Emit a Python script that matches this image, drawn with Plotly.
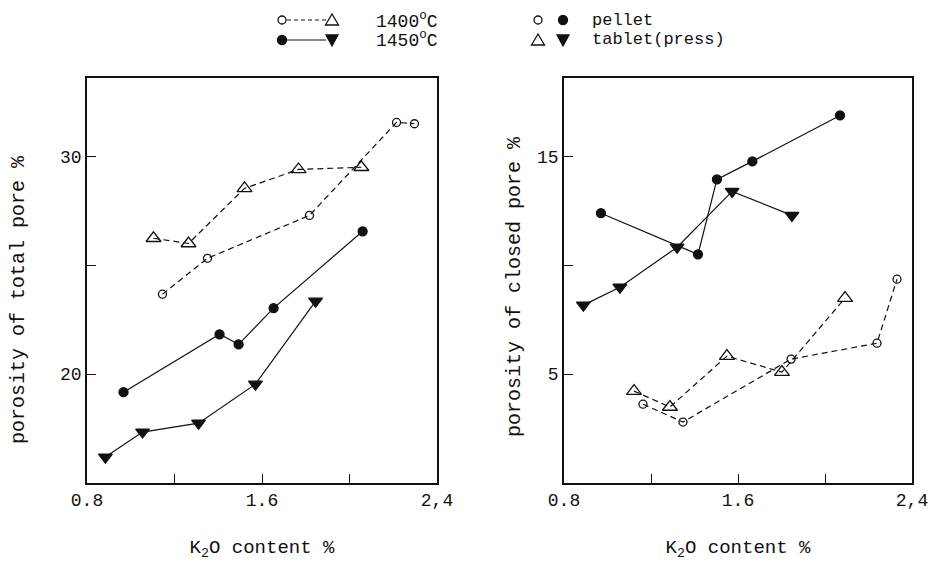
import plotly.graph_objects as go
from plotly.subplots import make_subplots

# ---- data: left panel (porosity of total pore %) ----
tp_pellet_1400_x = [1.145, 1.351, 1.817, 2.215, 2.297]
tp_pellet_1400_y = [23.67, 25.32, 27.29, 31.56, 31.5]
tp_tablet_1400_x = [1.104, 1.264, 1.52, 1.767, 2.054]
tp_tablet_1400_y = [26.24, 26.0, 28.53, 29.4, 29.5]
tp_pellet_1450_x = [0.967, 1.406, 1.493, 1.653, 2.06]
tp_pellet_1450_y = [19.17, 21.83, 21.37, 23.03, 26.56]
tp_tablet_1450_x = [0.884, 1.054, 1.31, 1.57, 1.845]
tp_tablet_1450_y = [16.19, 17.34, 17.75, 19.54, 23.35]

# ---- data: right panel (porosity of closed pore %) ----
cp_pellet_1400_x = [1.163, 1.347, 1.844, 2.239, 2.331]
cp_pellet_1400_y = [3.62, 2.80, 5.69, 6.42, 9.36]
cp_tablet_1400_x = [1.122, 1.287, 1.549, 1.802, 2.092]
cp_tablet_1400_y = [4.22, 3.49, 5.83, 5.09, 8.49]
cp_pellet_1450_x = [0.97, 1.416, 1.503, 1.666, 2.069]
cp_pellet_1450_y = [12.39, 10.5, 13.94, 14.77, 16.88]
cp_tablet_1450_x = [0.889, 1.057, 1.32, 1.573, 1.848]
cp_tablet_1450_y = [8.17, 8.99, 10.83, 13.39, 12.29]

x_tickvals = [0.8, 1.6, 2.4]
x_ticktext = ["0.8", "1.6", "2,4"]
x_minor = [1.2, 2.0]
yl_tickvals = [20, 30]
yl_minor = [25]
yr_tickvals = [5, 15]
yr_minor = [10]

FONT = "Liberation Mono"
BLACK = "#111111"

fig = make_subplots(rows=1, cols=2)


def add_series(x, y, col, symbol, dash, size):
    fig.add_trace(go.Scatter(
        x=x, y=y, mode="lines+markers",
        line=dict(color=BLACK, width=1.2, dash=dash),
        marker=dict(symbol=symbol, size=size, color=BLACK,
                    line=dict(color=BLACK, width=1.3)),
        showlegend=False), row=1, col=col)


add_series(tp_pellet_1400_x, tp_pellet_1400_y, 1, "circle-open", "6px,4px", 8)
add_series(tp_tablet_1400_x, tp_tablet_1400_y, 1, "triangle-up-open", "6px,4px", 13)
add_series(tp_pellet_1450_x, tp_pellet_1450_y, 1, "circle", "solid", 9)
add_series(tp_tablet_1450_x, tp_tablet_1450_y, 1, "triangle-down", "solid", 12)
add_series(cp_pellet_1400_x, cp_pellet_1400_y, 2, "circle-open", "6px,4px", 8)
add_series(cp_tablet_1400_x, cp_tablet_1400_y, 2, "triangle-up-open", "6px,4px", 13)
add_series(cp_pellet_1450_x, cp_pellet_1450_y, 2, "circle", "solid", 9)
add_series(cp_tablet_1450_x, cp_tablet_1450_y, 2, "triangle-down", "solid", 12)

W, H = 932, 572
ydom = [1 - 483 / H, 1 - 78 / H]

axis_common = dict(showline=True, mirror=True, linecolor=BLACK, linewidth=1.6,
                   showgrid=False, zeroline=False, ticks="inside", ticklen=9,
                   tickcolor=BLACK, tickwidth=1.2, automargin=False,
                   tickfont=dict(family=FONT, size=18, color=BLACK))

fig.update_xaxes(**axis_common, range=[0.8, 2.4], tickvals=x_tickvals,
                 ticktext=x_ticktext,
                 minor=dict(tickvals=x_minor, ticks="inside", ticklen=9,
                            tickcolor=BLACK, tickwidth=1.2, showgrid=False),
                 title=dict(text="K<sub>2</sub>O content %",
                            font=dict(family=FONT, size=19, color=BLACK),
                            standoff=29))
fig.update_xaxes(domain=[87 / W, 437 / W], row=1, col=1)
fig.update_xaxes(domain=[564 / W, 912 / W], row=1, col=2)
fig.update_yaxes(**axis_common, domain=ydom)
fig.update_yaxes(range=[15, 33.6], tickvals=yl_tickvals,
                 minor=dict(tickvals=yl_minor, ticks="inside", ticklen=9,
                            tickcolor=BLACK, tickwidth=1.2, showgrid=False),
                 row=1, col=1)
fig.update_yaxes(range=[0, 18.6], tickvals=yr_tickvals,
                 minor=dict(tickvals=yr_minor, ticks="inside", ticklen=9,
                            tickcolor=BLACK, tickwidth=1.2, showgrid=False),
                 row=1, col=2)

annotations = [
    dict(text="porosity of total pore %", x=18 / W, y=1 - 300 / H,
         textangle=-90),
    dict(text="porosity of closed pore %", x=514 / W, y=1 - 287 / H,
         textangle=-90),
]
for a in annotations:
    a.update(xref="paper", yref="paper", showarrow=False,
             xanchor="center", yanchor="middle",
             font=dict(family=FONT, size=20, color=BLACK))

# legend block (top) drawn with shapes + text
r1_px, r2_px = 20, 40
r1, r2 = 1 - r1_px / H, 1 - r2_px / H


def px(x):
    return x / W


def py(y):
    return 1 - y / H


def circle(cx, cy, r, filled):
    return dict(type="circle", xref="paper", yref="paper",
                x0=px(cx - r), x1=px(cx + r), y0=py(cy + r), y1=py(cy - r),
                line=dict(color=BLACK, width=1.3),
                fillcolor=BLACK if filled else "white")


def tri(cx, cy, up, filled):
    if up:
        pts = [(cx, cy - 6), (cx - 6.5, cy + 5), (cx + 6.5, cy + 5)]
    else:
        pts = [(cx - 6, cy - 5), (cx + 6, cy - 5), (cx, cy + 6)]
    path = "M " + " L ".join(f"{px(a):.5f},{py(b):.5f}" for a, b in pts) + " Z"
    return dict(type="path", xref="paper", yref="paper", path=path,
                line=dict(color=BLACK, width=1.3),
                fillcolor=BLACK if filled else "white")


shapes = [
    dict(type="line", xref="paper", yref="paper", x0=px(287), x1=px(326),
         y0=r1, y1=r1, line=dict(color=BLACK, width=1.2, dash="4px,3px")),
    dict(type="line", xref="paper", yref="paper", x0=px(287), x1=px(326),
         y0=r2, y1=r2, line=dict(color=BLACK, width=1.2)),
    circle(282, r1_px, 4, False), tri(332, r1_px, True, False),
    circle(282, r2_px, 4.5, True), tri(332, r2_px, False, True),
    circle(538, r1_px, 4, False), circle(563, r1_px, 4.5, True),
    tri(538, r2_px, True, False), tri(563, r2_px, False, True),
]

for t, x, y, s in [("1400<sup>o</sup>C", 374, r1, 18),
                   ("1450<sup>o</sup>C", 374, r2, 18),
                   ("pellet", 590, r1, 17), ("tablet(press)", 590, r2, 17)]:
    annotations.append(dict(text=t, x=x / W, y=y, xref="paper", yref="paper",
                            showarrow=False, xanchor="left", yanchor="middle",
                            font=dict(family=FONT, size=s, color=BLACK)))

fig.update_layout(width=W, height=H, margin=dict(l=0, r=0, t=0, b=0),
                  paper_bgcolor="white", plot_bgcolor="white",
                  annotations=annotations, shapes=shapes, showlegend=False)

fig.write_html("out.html", config={"displayModeBar": False},
               post_script="document.body.style.margin='0';"
                           "document.body.style.padding='0';")
